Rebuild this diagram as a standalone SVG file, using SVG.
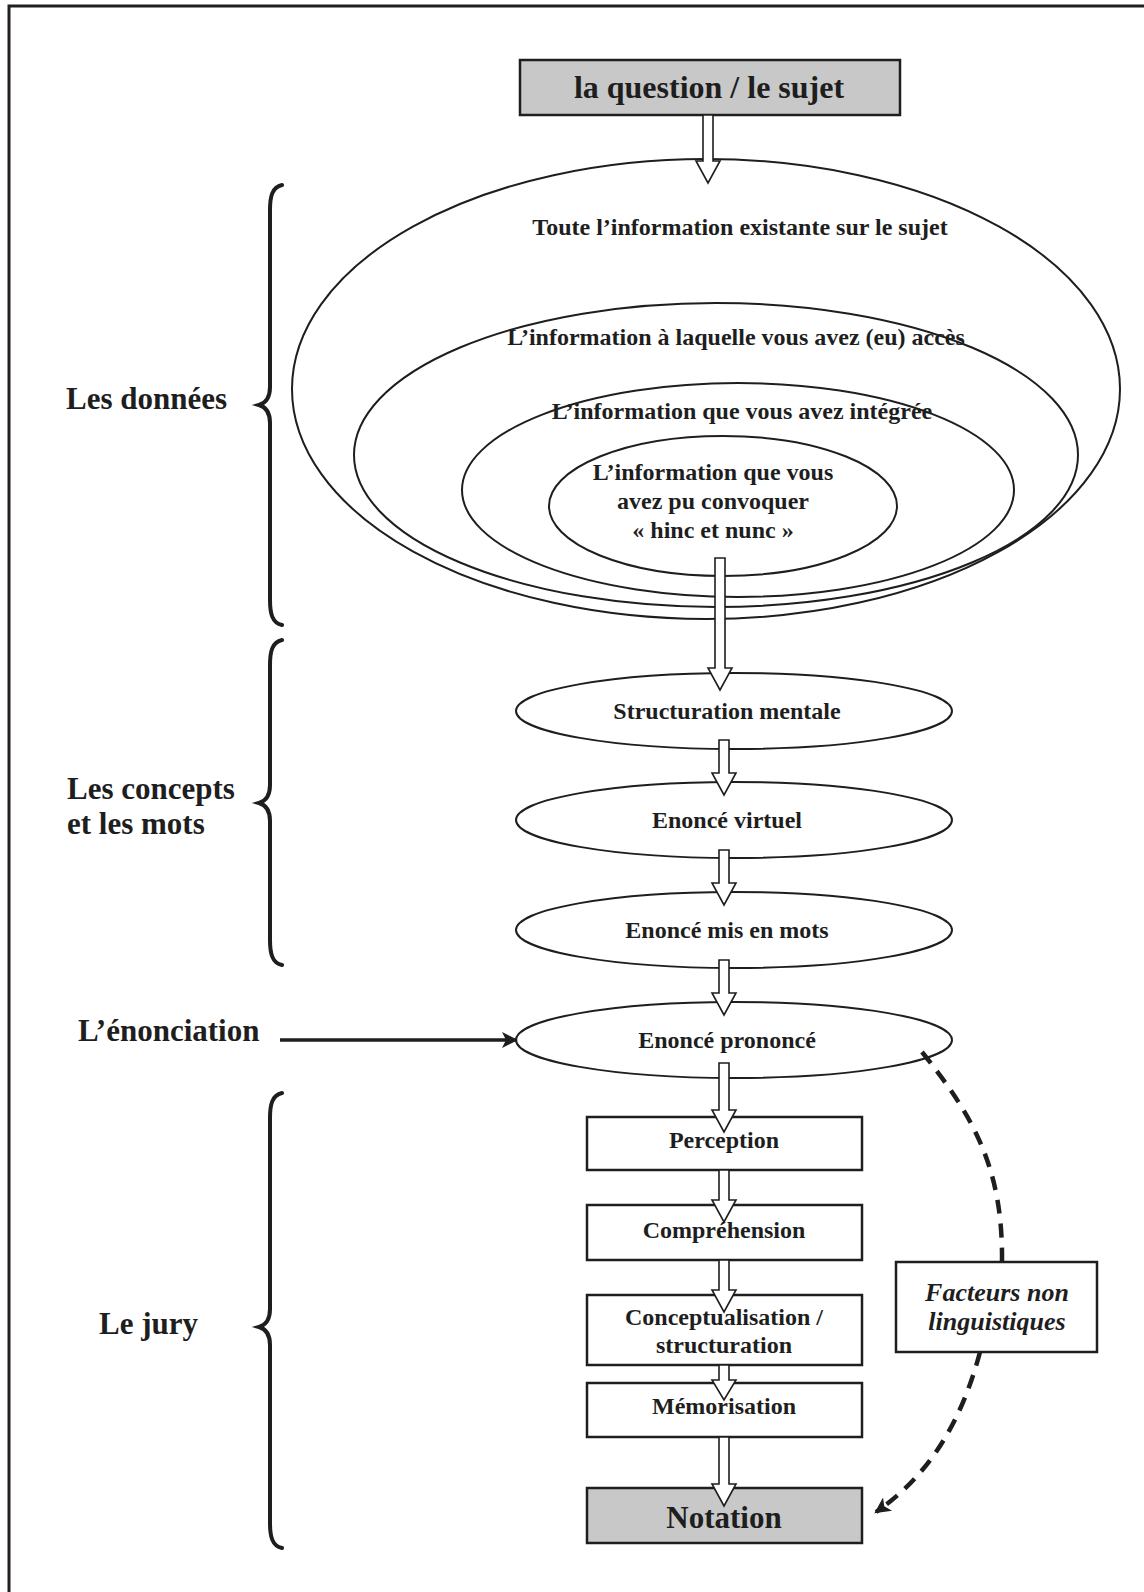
<svg xmlns="http://www.w3.org/2000/svg" width="1144" height="1592" viewBox="0 0 1144 1592">
<style>
.t{font-family:"Liberation Serif","Times New Roman",serif;font-weight:bold;fill:#1e1e1e;text-anchor:middle}
.lbl{font-size:31px;text-anchor:start}
.e{fill:none;stroke:#1e1e1e;stroke-width:2}
.ew{fill:#fff;stroke:#1e1e1e;stroke-width:2}
.box{fill:#fff;stroke:#1e1e1e;stroke-width:2.5}
.grey{fill:#c8c8c8;stroke:#1e1e1e;stroke-width:2.5}
.br{fill:none;stroke:#1e1e1e;stroke-width:4;stroke-linecap:round}
.arr{fill:#fff;stroke:#1e1e1e;stroke-width:1.6;stroke-linejoin:miter}
.dash{fill:none;stroke:#1e1e1e;stroke-width:4.5;stroke-dasharray:14 10}
</style>
<defs>
<marker id="ah2" markerWidth="18" markerHeight="16" refX="14" refY="8" orient="auto" markerUnits="userSpaceOnUse">
<path d="M0,0 L16,8 L0,16 L4,8 Z" fill="#1e1e1e"/>
</marker>
</defs>
<rect width="1144" height="1592" fill="#fff"/>
<g id="frame">
<path d="M9,1592 V6 H1144" fill="none" stroke="#231f20" stroke-width="3"/>
</g>

<g id="braces">
<path class="br" d="M282,185 C272,187 270,197 270,210 L270,387 C270,397 266,403 259,405 C266,407 270,413 270,423 L270,600 C270,613 272,623 282,625"/>
<path class="br" d="M282,640 C272,642 270,652 270,665 L270,785 C270,795 266,801 259,803 C266,805 270,811 270,821 L270,940 C270,953 272,963 282,965"/>
<path class="br" d="M282,1093 C272,1095 270,1105 270,1118 L270,1309 C270,1319 266,1325 259,1327 C266,1329 270,1335 270,1345 L270,1523 C270,1536 272,1546 282,1548"/>
</g>

<g id="labels">
<text class="t lbl" x="66" y="409">Les données</text>
<text class="t lbl" x="67" y="799">Les concepts</text>
<text class="t lbl" x="67" y="834">et les mots</text>
<text class="t lbl" x="78" y="1041">L’énonciation</text>
<text class="t lbl" x="99" y="1334">Le jury</text>
</g>

<g id="node-question">
<rect class="grey" x="520" y="60" width="380" height="55"/>
<text class="t" x="709" y="98" font-size="32">la question / le sujet</text>
</g>

<g id="node-info1">
<ellipse class="e" cx="706" cy="389" rx="414" ry="230"/>
<text class="t" x="740" y="235" font-size="24">Toute l’information existante sur le sujet</text>
</g>
<g id="node-info2">
<ellipse class="e" cx="716" cy="455" rx="362" ry="152"/>
<text class="t" x="736" y="345" font-size="24">L’information à laquelle vous avez (eu) accès</text>
</g>
<g id="node-info3">
<ellipse class="e" cx="738" cy="490" rx="276" ry="107"/>
<text class="t" x="742" y="419" font-size="24">L’information que vous avez intégrée</text>
</g>
<g id="node-info4">
<ellipse class="e" cx="723" cy="506" rx="174" ry="70"/>
<text class="t" x="713" y="480" font-size="24">L’information que vous</text>
<text class="t" x="713" y="509" font-size="24">avez pu convoquer</text>
<text class="t" x="713" y="538" font-size="24">« hinc et nunc »</text>
</g>

<g id="node-structuration">
<ellipse class="ew" cx="734" cy="711" rx="218" ry="38"/>
<text class="t" x="727" y="719" font-size="24">Structuration mentale</text>
</g>
<g id="node-virtuel">
<ellipse class="ew" cx="734" cy="820" rx="218" ry="38"/>
<text class="t" x="727" y="828" font-size="24">Enoncé virtuel</text>
</g>
<g id="node-mots">
<ellipse class="ew" cx="734" cy="930" rx="218" ry="38"/>
<text class="t" x="727" y="938" font-size="24">Enoncé mis en mots</text>
</g>
<g id="node-prononce">
<ellipse class="ew" cx="734" cy="1040" rx="218" ry="38"/>
<text class="t" x="727" y="1048" font-size="24">Enoncé prononcé</text>
</g>

<g id="node-perception">
<rect class="box" x="587" y="1117" width="275" height="53"/>
<text class="t" x="724" y="1148" font-size="24">Perception</text>
</g>
<g id="node-comprehension">
<rect class="box" x="587" y="1205" width="275" height="55"/>
<text class="t" x="724" y="1238" font-size="24">Compréhension</text>
</g>
<g id="node-conceptualisation">
<rect class="box" x="587" y="1295" width="275" height="70"/>
<text class="t" x="724" y="1325" font-size="24">Conceptualisation /</text>
<text class="t" x="724" y="1353" font-size="24">structuration</text>
</g>
<g id="node-memorisation">
<rect class="box" x="587" y="1383" width="275" height="54"/>
<text class="t" x="724" y="1414" font-size="24">Mémorisation</text>
</g>
<g id="node-notation">
<rect class="grey" x="587" y="1488" width="275" height="55"/>
<text class="t" x="724" y="1528" font-size="31">Notation</text>
</g>
<g id="node-facteurs">
<rect class="box" x="896" y="1262" width="201" height="90"/>
<text class="t" x="997" y="1301" font-size="26" font-style="italic">Facteurs non</text>
<text class="t" x="997" y="1330" font-size="26" font-style="italic">linguistiques</text>
</g>

<g id="connectors">
<path class="arr" d="M703,115 V161 H696 L708,183 L720,161 H713 V115 Z"/>
<path class="arr" d="M715,558 V668 H708 L720,690 L732,668 H725 V558 Z"/>
<path class="arr" d="M719,740 V773 H712 L724,795 L736,773 H729 V740 Z"/>
<path class="arr" d="M719,850 V883 H712 L724,905 L736,883 H729 V850 Z"/>
<path class="arr" d="M719,960 V993 H712 L724,1015 L736,993 H729 V960 Z"/>
<path class="arr" d="M719,1063 V1110 H712 L724,1132 L736,1110 H729 V1063 Z"/>
<path class="arr" d="M719,1170 V1200 H712 L724,1222 L736,1200 H729 V1170 Z"/>
<path class="arr" d="M719,1260 V1290 H712 L724,1312 L736,1290 H729 V1260 Z"/>
<path class="arr" d="M719,1365 V1380 H712 L724,1400 L736,1380 H729 V1365 Z"/>
<path class="arr" d="M719,1437 V1484 H712 L724,1506 L736,1484 H729 V1437 Z"/>
<line x1="280" y1="1040" x2="516" y2="1040" stroke="#1e1e1e" stroke-width="3.5" marker-end="url(#ah2)"/>
<path class="dash" d="M922,1052 C975,1118 1003,1170 1002,1262"/>
<path class="dash" d="M980,1352 C962,1420 930,1475 876,1512" marker-end="url(#ah2)"/>
</g>
</svg>
